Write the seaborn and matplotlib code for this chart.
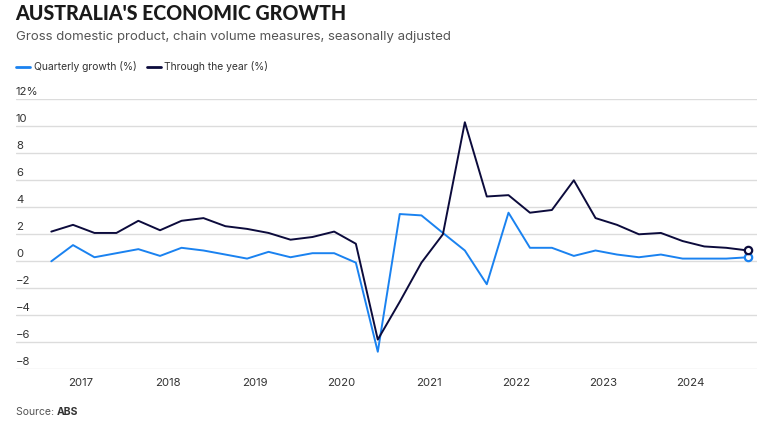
import matplotlib
matplotlib.use("Agg")
import matplotlib.pyplot as plt
import matplotlib.transforms as mtransforms
import pandas as pd
import seaborn as sns

# ---- data (Sep 2016 quarter .. Sep 2024 quarter) ----
quarter_dates = pd.date_range("2016-09-01", "2024-09-01", freq="3MS")
quarterly_growth = [0.0, 1.2, 0.3, 0.6, 0.9, 0.4, 1.0, 0.8, 0.5, 0.2, 0.7, 0.3,
                    0.6, 0.6, -0.1, -6.7, 3.5, 3.4, 2.1, 0.8, -1.7, 3.6, 1.0, 1.0,
                    0.4, 0.8, 0.5, 0.3, 0.5, 0.2, 0.2, 0.2, 0.3]
through_year = [2.2, 2.7, 2.1, 2.1, 3.0, 2.3, 3.0, 3.2, 2.6, 2.4, 2.1, 1.6,
                1.8, 2.2, 1.3, -5.8, -3.0, -0.1, 2.0, 10.3, 4.8, 4.9, 3.6, 3.8,
                6.0, 3.2, 2.7, 2.0, 2.1, 1.5, 1.1, 1.0, 0.8]
series_names = ["Quarterly growth (%)", "Through the year (%)"]
years = [2017, 2018, 2019, 2020, 2021, 2022, 2023, 2024]
y_ticks = [-8, -6, -4, -2, 0, 2, 4, 6, 8, 10, 12]
y_tick_labels = ["\u22128", "\u22126", "\u22124", "\u22122", "0", "2", "4", "6", "8", "10", "12%"]

colors = {series_names[0]: "#1a82f0", series_names[1]: "#0c0b3c"}

df = pd.DataFrame({
    "date": list(quarter_dates) * 2,
    "value": quarterly_growth + through_year,
    "series": [series_names[0]] * len(quarterly_growth) + [series_names[1]] * len(through_year),
})

sns.set_theme(style="white")
plt.rcParams["font.family"] = ["Inter", "DejaVu Sans"]

W, H = 762, 425
fig = plt.figure(figsize=(W / 100, H / 100), dpi=100)
ax_left, ax_right = 16 / W, 757 / W
ax_top, ax_bottom = 1 - 99.3 / H, 1 - 369.3 / H
ax = fig.add_axes([ax_left, ax_bottom, ax_right - ax_left, ax_top - ax_bottom])

sns.lineplot(data=df, x="date", y="value", hue="series", palette=colors,
             linewidth=1.4, legend=False, ax=ax, zorder=3)

# end markers
for name, vals in zip(series_names, [quarterly_growth, through_year]):
    ax.scatter([quarter_dates[-1]], [vals[-1]], s=28, facecolor="white",
               edgecolor=colors[name], linewidth=1.6, zorder=4)

ax.set_xlim(pd.Timestamp("2016-04-06"), pd.Timestamp("2024-10-08"))
ax.set_ylim(-8, 12)
ax.set_xlabel("")
ax.set_ylabel("")
for s in ax.spines.values():
    s.set_visible(False)

ax.set_yticks(y_ticks)
ax.set_yticklabels([])
ax.yaxis.grid(True, color="#dcdcdc", linewidth=1.0, zorder=0)
ax.xaxis.grid(False)
ax.tick_params(axis="y", length=0)

ax.set_xticks([pd.Timestamp(f"{y}-01-01") for y in years])
ax.set_xticklabels([str(y) for y in years], fontsize=8.2, color="#333333")
ax.tick_params(axis="x", length=0, pad=6)

trans = mtransforms.blended_transform_factory(ax.transAxes, ax.transData)
for v, lab in zip(y_ticks, y_tick_labels):
    ax.annotate(lab, xy=(0, v), xycoords=trans, xytext=(0, 3), textcoords="offset points",
                ha="left", va="baseline", fontsize=8.2, color="#333333")

# titles
fig.text(15 / W, 1 - 3.5 / H, "AUSTRALIA'S ECONOMIC GROWTH", ha="left", va="top",
         fontsize=14.1, fontweight=900, family=["Lato", "DejaVu Sans"], color="#1a1a1a")
fig.text(16 / W, 1 - 37 / H, "Gross domestic product, chain volume measures, seasonally adjusted",
         ha="left", va="center", fontsize=9.5, color="#555555")

# legend
handles = [plt.Line2D([], [], color=colors[n], linewidth=2) for n in series_names]
leg = fig.legend(handles, series_names, loc="center left", bbox_to_anchor=(16 / W, 1 - 67 / H),
                 ncol=2, frameon=False, fontsize=7.45, handlelength=1.35, handletextpad=0.35,
                 columnspacing=1.0, borderpad=0, borderaxespad=0)
for t in leg.get_texts():
    t.set_color("#333333")

# source
src = fig.text(16 / W, 1 - 412 / H, "Source: ", ha="left", va="center", fontsize=7.5, color="#555555")
fig.canvas.draw()
bb = src.get_window_extent()
fig.text(bb.x1 / W, 1 - 412 / H, "ABS", ha="left", va="center", fontsize=7.5,
         fontweight="bold", color="#333333")

fig.savefig("out.png", dpi=100)
